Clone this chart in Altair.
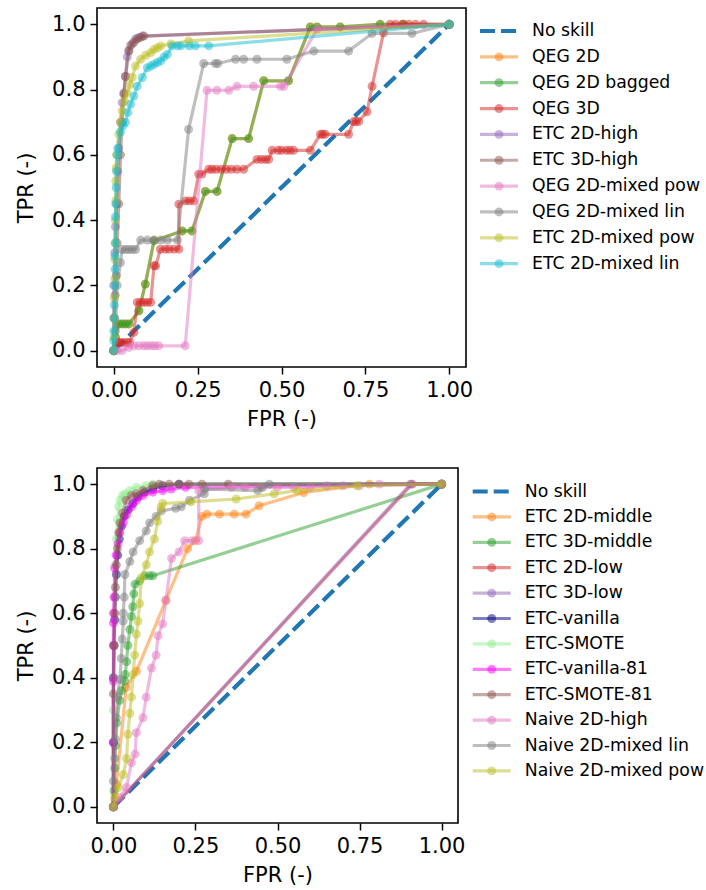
import altair as alt
import pandas as pd

FONT = "DejaVu Sans"
NO_SKILL_COLOR = "#1f77b4"

# ---------------------------------------------------------------- upper panel
no_skill = [(0.0, 0.0), (1.0, 1.0)]

qeg_2d = [(0, 0), (0.005, 0.041), (0.015, 0.082), (0.025, 0.082), (0.035, 0.082),
          (0.045, 0.082), (0.075, 0.122), (0.094, 0.204), (0.12, 0.337),
          (0.204, 0.367), (0.233, 0.367), (0.273, 0.488), (0.308, 0.488),
          (0.353, 0.65), (0.402, 0.65), (0.447, 0.827), (0.521, 0.827),
          (0.586, 0.992), (0.606, 0.992), (0.675, 0.992), (0.794, 1.0),
          (0.864, 1.0), (1.0, 1.0)]
qeg_2d_bagged = list(qeg_2d)
qeg_3d = [(0, 0), (0.01, 0.025), (0.013, 0.025), (0.02, 0.025), (0.03, 0.025),
          (0.04, 0.025), (0.047, 0.025), (0.06, 0.056), (0.07, 0.148), (0.08, 0.148),
          (0.09, 0.148), (0.1, 0.148), (0.11, 0.148), (0.12, 0.26), (0.125, 0.26),
          (0.139, 0.311), (0.154, 0.311), (0.165, 0.311), (0.18, 0.311), (0.194, 0.311),
          (0.194, 0.449), (0.214, 0.459), (0.225, 0.459), (0.238, 0.459),
          (0.253, 0.541), (0.263, 0.541), (0.283, 0.556), (0.293, 0.556),
          (0.305, 0.556), (0.32, 0.556), (0.335, 0.556), (0.35, 0.556), (0.367, 0.556),
          (0.387, 0.556), (0.427, 0.586), (0.44, 0.586), (0.452, 0.586), (0.462, 0.586),
          (0.472, 0.614), (0.49, 0.614), (0.5, 0.614), (0.515, 0.614), (0.525, 0.614),
          (0.536, 0.614), (0.586, 0.614), (0.616, 0.663), (0.623, 0.663),
          (0.63, 0.663), (0.70, 0.663), (0.715, 0.702), (0.722, 0.702), (0.73, 0.702),
          (0.755, 0.732), (0.77, 0.81), (0.804, 0.974), (0.824, 1.0), (0.84, 1.0),
          (0.86, 1.0), (0.88, 1.0), (0.9, 1.0), (0.923, 1.0), (1.0, 1.0)]
etc_2d_high = [(0, 0), (0, 0.1), (0, 0.2), (0.003, 0.3), (0.005, 0.38), (0.008, 0.45),
               (0.012, 0.55), (0.015, 0.62), (0.02, 0.7), (0.025, 0.76), (0.03, 0.79),
               (0.035, 0.84), (0.04, 0.9), (0.045, 0.92), (0.055, 0.94), (0.065, 0.955),
               (0.075, 0.96), (0.085, 0.964), (1.0, 1.0)]
etc_3d_high = [(0, 0), (0.002, 0.1), (0.004, 0.17), (0.008, 0.23), (0.01, 0.33),
               (0.015, 0.45), (0.02, 0.6), (0.025, 0.7), (0.03, 0.786), (0.035, 0.84),
               (0.045, 0.918), (0.05, 0.935), (0.06, 0.945), (0.07, 0.955), (0.08, 0.96),
               (0.09, 0.964), (1.0, 1.0)]
qeg_2d_mixed_pow = [(0, 0), (0.01, 0.0), (0.025, 0.0), (0.045, 0.01), (0.06, 0.015),
                    (0.075, 0.015), (0.09, 0.015), (0.1, 0.015), (0.112, 0.015),
                    (0.122, 0.015), (0.134, 0.015), (0.213, 0.015), (0.278, 0.798),
                    (0.307, 0.798), (0.343, 0.798), (0.367, 0.81), (0.417, 0.81),
                    (0.497, 0.81), (0.507, 0.81), (0.606, 0.985), (1.0, 1.0)]
qeg_2d_mixed_lin = [(0, 0), (0.005, 0.06), (0.01, 0.2), (0.02, 0.27), (0.025, 0.31),
                    (0.035, 0.31), (0.045, 0.31), (0.055, 0.31), (0.065, 0.31),
                    (0.08, 0.339), (0.1, 0.339), (0.12, 0.339), (0.14, 0.339),
                    (0.16, 0.339), (0.19, 0.339), (0.223, 0.678), (0.268, 0.88),
                    (0.303, 0.88), (0.31, 0.88), (0.363, 0.893), (0.387, 0.893),
                    (0.427, 0.893), (0.516, 0.893), (0.596, 0.918), (0.70, 0.918),
                    (0.77, 0.972), (0.889, 0.972), (1.0, 1.0)]
etc_2d_mixed_pow = [(0, 0), (0, 0.04), (0.001, 0.1), (0.002, 0.16), (0.003, 0.22),
                    (0.003, 0.28), (0.004, 0.33), (0.005, 0.4), (0.006, 0.46),
                    (0.006, 0.52), (0.007, 0.56), (0.008, 0.6), (0.015, 0.663),
                    (0.02, 0.7), (0.025, 0.735), (0.032, 0.765), (0.04, 0.79),
                    (0.048, 0.815), (0.055, 0.837), (0.065, 0.872), (0.08, 0.893),
                    (0.095, 0.905), (0.11, 0.913), (0.12, 0.923), (0.13, 0.928),
                    (0.14, 0.934), (0.17, 0.94), (0.223, 0.949), (1.0, 1.0)]
etc_2d_mixed_lin = [(0, 0), (0, 0.03), (0, 0.06), (0.002, 0.1), (0.002, 0.14),
                    (0.003, 0.2), (0.004, 0.25), (0.004, 0.29), (0.005, 0.33),
                    (0.005, 0.41), (0.006, 0.45), (0.007, 0.5), (0.008, 0.55),
                    (0.01, 0.6), (0.012, 0.62), (0.02, 0.67), (0.028, 0.69),
                    (0.035, 0.7), (0.042, 0.73), (0.05, 0.755), (0.06, 0.78),
                    (0.07, 0.81), (0.085, 0.837), (0.1, 0.867), (0.11, 0.872),
                    (0.12, 0.877), (0.13, 0.883), (0.14, 0.888), (0.15, 0.9),
                    (0.16, 0.908), (0.174, 0.934), (0.19, 0.934), (0.2, 0.934),
                    (0.225, 0.934), (0.243, 0.934), (0.283, 0.934), (1.0, 1.0)]

upper_names = ["QEG 2D", "QEG 2D bagged", "QEG 3D", "ETC 2D-high", "ETC 3D-high",
               "QEG 2D-mixed pow", "QEG 2D-mixed lin", "ETC 2D-mixed pow",
               "ETC 2D-mixed lin"]
upper_colors = ["#ff7f0e", "#2ca02c", "#d62728", "#9467bd", "#8c564b", "#e377c2",
                "#7f7f7f", "#bcbd22", "#17becf"]
upper_curves = [qeg_2d, qeg_2d_bagged, qeg_3d, etc_2d_high, etc_3d_high,
                qeg_2d_mixed_pow, qeg_2d_mixed_lin, etc_2d_mixed_pow, etc_2d_mixed_lin]

# ---------------------------------------------------------------- lower panel
etc_2d_middle = [(0, 0), (0.005, 0.02), (0.009, 0.07), (0.039, 0.37), (0.07, 0.42),
                 (0.16, 0.64), (0.226, 0.80), (0.25, 0.825), (0.27, 0.90),
                 (0.285, 0.907), (0.323, 0.907), (0.368, 0.907), (0.404, 0.907),
                 (0.444, 0.933), (0.58, 0.974), (0.78, 1.0), (1.0, 1.0)]
etc_3d_middle = [(0, 0), (0.002, 0.05), (0.004, 0.12), (0.006, 0.19), (0.01, 0.26),
                 (0.019, 0.33), (0.025, 0.36), (0.034, 0.39), (0.036, 0.41),
                 (0.04, 0.45), (0.044, 0.50), (0.05, 0.55), (0.055, 0.59),
                 (0.059, 0.62), (0.062, 0.66), (0.066, 0.69), (0.08, 0.70),
                 (0.095, 0.716), (0.11, 0.716), (0.12, 0.716), (1.0, 1.0)]
etc_2d_low = [(0, 0), (0.91, 1.0), (1.0, 1.0)]
etc_3d_low = [(0, 0), (0.905, 1.0), (1.0, 1.0)]
etc_vanilla = [(0, 0), (0, 0.2), (0, 0.4), (0.002, 0.5), (0.004, 0.58), (0.006, 0.65),
               (0.009, 0.72), (0.013, 0.78), (0.018, 0.83), (0.025, 0.87),
               (0.033, 0.9), (0.045, 0.92), (0.06, 0.94), (0.075, 0.96),
               (0.095, 0.975), (0.12, 0.985), (0.15, 0.995), (0.2, 1.0), (1.0, 1.0)]
etc_smote = [(0, 0), (0, 0.3), (0.002, 0.5), (0.004, 0.65), (0.006, 0.75),
             (0.009, 0.83), (0.012, 0.89), (0.016, 0.93), (0.02, 0.95),
             (0.028, 0.965), (0.035, 0.97), (0.05, 0.98), (0.07, 0.99),
             (0.1, 0.995), (0.12, 1.0), (1.0, 1.0)]
etc_vanilla_81 = [(0, 0), (0, 0.2), (0, 0.39), (0, 0.5), (0, 0.57), (0, 0.6),
                  (0.002, 0.65), (0.004, 0.74), (0.008, 0.78), (0.014, 0.815),
                  (0.02, 0.85), (0.03, 0.88), (0.04, 0.905), (0.055, 0.93),
                  (0.07, 0.95), (0.09, 0.965), (0.12, 0.975), (0.15, 0.98),
                  (0.176, 0.985), (0.22, 0.99), (1.0, 1.0)]
etc_smote_81 = [(0, 0), (0, 0.35), (0.002, 0.5), (0.004, 0.6), (0.006, 0.68),
                (0.009, 0.75), (0.012, 0.8), (0.016, 0.85), (0.02, 0.88),
                (0.028, 0.91), (0.039, 0.95), (0.055, 0.965), (0.07, 0.97),
                (0.09, 0.98), (0.12, 0.995), (0.14, 1.0), (0.17, 1.0), (0.2, 1.0),
                (0.23, 1.0), (0.27, 1.0), (0.35, 1.0), (1.0, 1.0)]
naive_2d_high = [(0, 0), (0.02, 0.03), (0.04, 0.06), (0.055, 0.137), (0.066, 0.163),
                 (0.07, 0.23), (0.09, 0.276), (0.1, 0.34), (0.116, 0.43),
                 (0.13, 0.47), (0.136, 0.53), (0.15, 0.567), (0.16, 0.64),
                 (0.177, 0.77), (0.2, 0.79), (0.217, 0.825), (0.24, 0.825),
                 (0.26, 0.825), (0.26, 0.98), (0.36, 0.99), (0.4, 0.99), (0.45, 0.99),
                 (0.5, 0.99), (0.55, 0.99), (0.6, 0.99), (0.65, 0.995), (0.7, 0.995),
                 (0.75, 0.995), (0.81, 1.0), (1.0, 1.0)]
naive_2d_mixed_lin = [(0, 0), (0, 0.08), (0.004, 0.15), (0.006, 0.21), (0.009, 0.276),
                      (0.012, 0.34), (0.02, 0.395), (0.024, 0.46), (0.027, 0.52),
                      (0.03, 0.576), (0.03, 0.6), (0.033, 0.65), (0.035, 0.72),
                      (0.05, 0.76), (0.06, 0.79), (0.08, 0.825), (0.1, 0.855),
                      (0.11, 0.88), (0.13, 0.9), (0.146, 0.917), (0.19, 0.925),
                      (0.207, 0.93), (0.232, 0.95), (0.277, 0.97), (0.278, 0.985),
                      (0.44, 0.98), (0.455, 0.99), (0.475, 1.0), (1.0, 1.0)]
naive_2d_mixed_pow = [(0, 0), (0.004, 0.03), (0.015, 0.06), (0.03, 0.1), (0.04, 0.15),
                      (0.044, 0.225), (0.05, 0.29), (0.055, 0.34), (0.06, 0.41),
                      (0.065, 0.47), (0.07, 0.535), (0.075, 0.576), (0.08, 0.63),
                      (0.085, 0.71), (0.1, 0.75), (0.11, 0.79), (0.125, 0.83),
                      (0.135, 0.885), (0.145, 0.928), (0.15, 0.94), (0.236, 0.945),
                      (0.374, 0.954), (0.49, 0.97), (0.56, 0.98), (0.742, 0.995),
                      (1.0, 1.0)]

lower_names = ["ETC 2D-middle", "ETC 3D-middle", "ETC 2D-low", "ETC 3D-low",
               "ETC-vanilla", "ETC-SMOTE", "ETC-vanilla-81", "ETC-SMOTE-81",
               "Naive 2D-high", "Naive 2D-mixed lin", "Naive 2D-mixed pow"]
lower_colors = ["#ff7f0e", "#2ca02c", "#d62728", "#9467bd", "#000080", "#90ee90",
                "#ff00ff", "#8c564b", "#e377c2", "#7f7f7f", "#bcbd22"]
lower_curves = [etc_2d_middle, etc_3d_middle, etc_2d_low, etc_3d_low, etc_vanilla,
                etc_smote, etc_vanilla_81, etc_smote_81, naive_2d_high,
                naive_2d_mixed_lin, naive_2d_mixed_pow]

X_TICKS = [0.0, 0.25, 0.5, 0.75, 1.0]
Y_TICKS = [0.0, 0.2, 0.4, 0.6, 0.8, 1.0]
LINE_W = 3.2
DASH_W = 4.2
DASH = [15, 6]
DOT = 80


def roc_panel(curves, colors, width, height):
    xs = alt.Scale(domain=[-0.05, 1.05], nice=False, zero=False)
    ys = alt.Scale(domain=[-0.05, 1.05], nice=False, zero=False)
    x_axis = alt.Axis(values=X_TICKS, format=".2f", title="FPR (-)")
    y_axis = alt.Axis(values=Y_TICKS, format=".1f", title="TPR (-)", titlePadding=15)

    def base(points):
        df = pd.DataFrame(points, columns=["fpr", "tpr"])
        df["step"] = range(len(df))
        return alt.Chart(df).encode(
            x=alt.X("fpr:Q", scale=xs, axis=x_axis),
            y=alt.Y("tpr:Q", scale=ys, axis=y_axis),
            order=alt.Order("step:Q"),
        )

    layers = [base(no_skill).mark_line(color=NO_SKILL_COLOR, strokeWidth=DASH_W,
                                       strokeDash=DASH)]
    for pts, col in zip(curves, colors):
        b = base(pts)
        layers.append(b.mark_line(color=col, opacity=0.5, strokeWidth=LINE_W,
                                  strokeJoin="round"))
        layers.append(b.mark_circle(color=col, opacity=0.5, size=DOT))
    return alt.layer(*layers).properties(
        width=width, height=height,
        view=alt.ViewBackground(stroke="black", strokeWidth=1.6),
    )


def legend_panel(names, colors, height, first, step, shift):
    labels = ["No skill"] + names
    df = pd.DataFrame({"name": labels, "idx": list(range(len(labels)))})
    lo = -first / step
    hi = lo + height / step
    ys = alt.Scale(domain=[hi, lo], nice=False, zero=False)
    cs = alt.Scale(domain=labels, range=[NO_SKILL_COLOR] + colors)
    base = alt.Chart(df).encode(
        y=alt.Y("idx:Q", scale=ys, axis=None),
        color=alt.Color("name:N", scale=cs, legend=None),
    )
    first_row = alt.datum.idx == 0
    other_rows = alt.datum.idx > 0
    dashed = base.transform_filter(first_row).mark_rule(
        strokeWidth=DASH_W, strokeDash=DASH
    ).encode(x=alt.value(14 + shift), x2=alt.value(52 + shift))
    solid = base.transform_filter(other_rows).mark_rule(
        strokeWidth=LINE_W, opacity=0.5
    ).encode(x=alt.value(14 + shift), x2=alt.value(52 + shift))
    dots = base.transform_filter(other_rows).mark_circle(
        size=DOT, opacity=0.5
    ).encode(x=alt.value(33 + shift))
    text = alt.Chart(df).mark_text(
        align="left", baseline="middle", font=FONT, fontSize=17.3, color="black"
    ).encode(
        x=alt.value(66 + shift),
        y=alt.Y("idx:Q", scale=ys, axis=None),
        text="name:N",
    )
    return alt.layer(dashed, solid, dots, text).properties(width=230, height=height)


top_plot = roc_panel(upper_curves, upper_colors, 369, 359)
top_legend = legend_panel(upper_names, upper_colors, 359, 23, 25.85, 0)
bottom_plot = roc_panel(lower_curves, lower_colors, 361, 355)
bottom_legend = legend_panel(lower_names, lower_colors, 355, 23.5, 25.4, -7.3)

chart = alt.concat(
    top_plot, top_legend, bottom_plot, bottom_legend,
    columns=2, bounds="flush", align="each",
    spacing={"row": 101, "column": 0},
).resolve_scale(
    color="independent"
).properties(
    padding={"left": 14, "top": 7, "right": 0, "bottom": 0},
).configure_view(
    stroke="transparent"
).configure_axis(
    domain=False, grid=False, ticks=True, tickColor="black", tickWidth=1.5,
    tickSize=7, labelFont=FONT, titleFont=FONT, labelFontSize=21,
    titleFontSize=21, labelColor="black", titleColor="black",
    titleFontWeight="normal", labelPadding=5, titlePadding=8, labelFlush=False,
)

chart.save("out.html", embed_options={"renderer": "svg", "actions": False})
